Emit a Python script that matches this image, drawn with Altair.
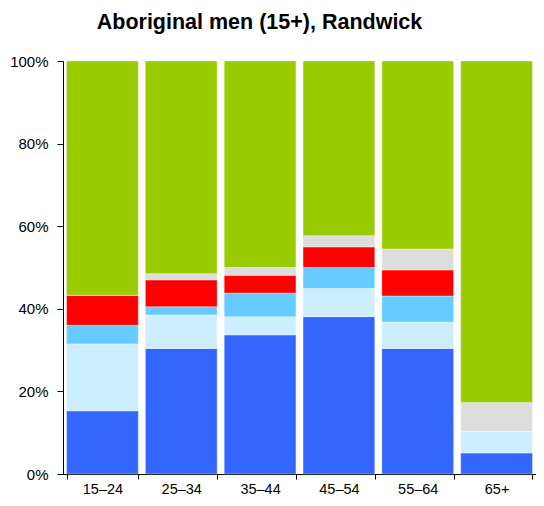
import altair as alt
import pandas as pd

categories = ["15–24", "25–34", "35–44", "45–54", "55–64", "65+"]
series = ["Employed full-time", "Employed part-time", "Employed, away from work",
          "Unemployed", "Labour force status not stated", "Not in the labour force"]
colors = ["#3366FF", "#CCEEFF", "#66CCFF", "#FF0000", "#DDDDDD", "#99CC00"]

full_time = [15.3, 30.4, 33.7, 38.1, 30.4, 5.1]
part_time = [16.2, 8.1, 4.4, 6.8, 6.4, 5.2]
away = [4.5, 2.0, 5.7, 5.1, 6.3, 0.0]
unemployed = [7.3, 6.5, 4.3, 5.0, 6.3, 0.0]
not_stated = [0.0, 1.5, 1.9, 2.7, 5.1, 7.0]
not_in_lf = [56.7, 51.5, 50.0, 42.3, 45.5, 82.7]

values = [full_time, part_time, away, unemployed, not_stated, not_in_lf]
rows = []
for si, (s, vals) in enumerate(zip(series, values)):
    for c, v in zip(categories, vals):
        rows.append({"age": c, "series": s, "order": si, "value": v})
df = pd.DataFrame(rows)

FONT = "Liberation Sans"

chart = alt.Chart(df).mark_bar(stroke="white", strokeWidth=0.7, strokeOpacity=0.5).encode(
    x=alt.X("age:N", sort=categories, title=None,
            scale=alt.Scale(paddingInner=0.09, paddingOuter=0.045),
            axis=alt.Axis(labelAngle=0, tickBand="extent", domainColor="black",
                          tickColor="black", tickSize=5, labelFontSize=14.5,
                          labelColor="black", labelFont=FONT, labelPadding=3)),
    y=alt.Y("value:Q", stack="normalize", title=None,
            scale=alt.Scale(domain=[0, 1]),
            axis=alt.Axis(format=".0%", values=[0, 0.2, 0.4, 0.6, 0.8, 1.0], grid=False,
                          domainColor="black", tickColor="black", tickSize=6,
                          labelFontSize=15, labelColor="black", labelFont=FONT,
                          labelPadding=9)),
    color=alt.Color("series:N", sort=series,
                    scale=alt.Scale(domain=series, range=colors), legend=None),
    order=alt.Order("order:Q", sort="ascending"),
).properties(
    width=473,
    height=413,
    title=alt.TitleParams("Aboriginal men (15+), Randwick", fontSize=21.5, font=FONT,
                          fontWeight="bold", color="black", anchor="middle",
                          frame="group", dx=-40, offset=21),
    autosize=alt.AutoSizeParams(type="none"),
    padding={"left": 55, "top": 53, "right": 0, "bottom": 24},
).configure_view(stroke=None)

chart.save("out.html", embed_options={"renderer": "svg", "actions": False})
